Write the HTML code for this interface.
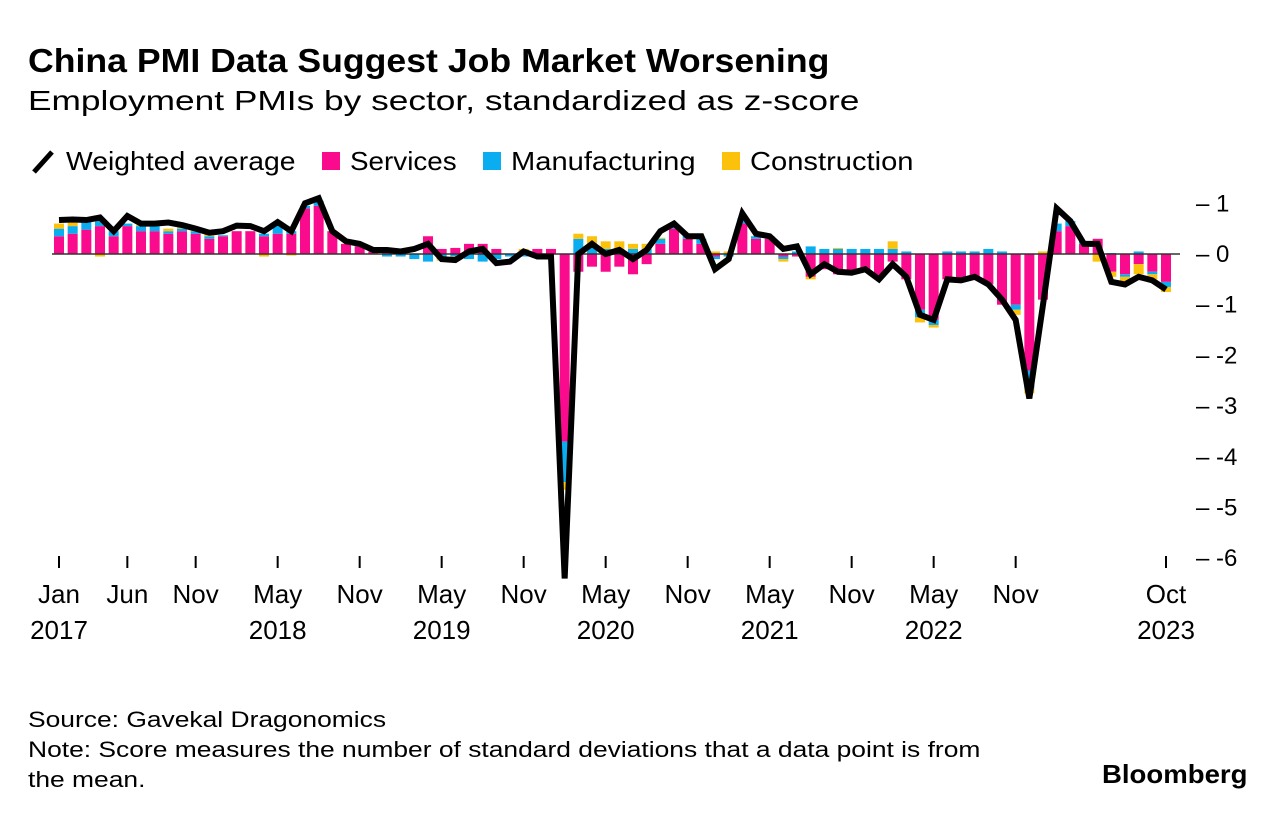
<!DOCTYPE html>
<html><head><meta charset="utf-8"><style>
body{margin:0;background:#fff;font-family:"Liberation Sans",sans-serif;color:#000}
.t{position:absolute;white-space:nowrap;transform-origin:0 0}
</style></head><body>
<div style="position:relative;width:1280px;height:818px;overflow:hidden">
<div class="t" style="left:28px;top:42px;font-size:33px;font-weight:bold;transform:scaleX(1.08)">China PMI Data Suggest Job Market Worsening</div>
<div class="t" style="left:28px;top:85px;font-size:28px;transform:scaleX(1.26)">Employment PMIs by sector, standardized as z-score</div>
<svg class="t" style="left:28px;top:146px" width="30" height="30"><line x1="6" y1="26" x2="24" y2="6" stroke="#000" stroke-width="5"/></svg>
<div class="t" style="left:66px;top:146px;font-size:26px;transform:scaleX(1.09)">Weighted average</div>
<div class="t" style="left:322px;top:152px;width:18px;height:18px;background:#fa0a8c"></div>
<div class="t" style="left:350px;top:146px;font-size:26px;transform:scaleX(1.07)">Services</div>
<div class="t" style="left:483px;top:152px;width:18px;height:18px;background:#0aaef0"></div>
<div class="t" style="left:511px;top:146px;font-size:26px;transform:scaleX(1.12)">Manufacturing</div>
<div class="t" style="left:722px;top:152px;width:18px;height:18px;background:#fcc10a"></div>
<div class="t" style="left:750px;top:146px;font-size:26px;transform:scaleX(1.12)">Construction</div>
<svg id="chart" width="1280" height="818" style="position:absolute;left:0;top:0"></svg>
<div class="t" style="left:28px;top:705px;font-size:22px;line-height:30px;transform:scaleX(1.2)">Source: Gavekal Dragonomics<br>Note: Score measures the number of standard deviations that a data point is from<br>the mean.</div>
<div class="t" style="left:1102px;top:759px;font-size:26px;font-weight:bold;transform:scaleX(1.06)">Bloomberg</div>
</div>
<script>
const average=[0.67,0.68,0.67,0.72,0.45,0.75,0.6,0.6,0.62,0.57,0.5,0.42,0.45,0.56,0.55,0.45,0.63,0.45,1.0,1.1,0.45,0.25,0.2,0.08,0.08,0.05,0.1,0.2,-0.1,-0.12,0.05,0.1,-0.18,-0.15,0.05,-0.05,-0.05,-6.4,0.0,0.2,0.0,0.08,-0.1,0.08,0.45,0.6,0.35,0.35,-0.3,-0.1,0.8,0.4,0.35,0.1,0.15,-0.4,-0.2,-0.35,-0.37,-0.3,-0.5,-0.2,-0.45,-1.2,-1.3,-0.5,-0.52,-0.45,-0.6,-0.9,-1.3,-2.85,-1.0,0.9,0.65,0.2,0.2,-0.55,-0.6,-0.45,-0.52,-0.7];
const services=[0.35,0.4,0.48,0.55,0.35,0.55,0.45,0.45,0.4,0.45,0.4,0.3,0.35,0.45,0.45,0.35,0.4,0.4,0.9,0.95,0.45,0.2,0.15,0.05,0.05,0,0,0.35,0.1,0.12,0.2,0.2,0.1,0,0.05,0.1,0.1,-3.7,-0.35,-0.25,-0.35,-0.25,-0.4,-0.2,0.2,0.5,0.3,0.2,-0.05,0,0.6,0.3,0.3,-0.05,-0.05,-0.45,-0.3,-0.4,-0.4,-0.35,-0.45,-0.15,-0.5,-1.1,-1.3,-0.5,-0.55,-0.5,-0.6,-1.0,-1.0,-2.3,-0.9,0.45,0.55,0.2,0.3,-0.35,-0.4,-0.2,-0.35,-0.55];
const manufacturing=[0.15,0.15,0.15,0.1,0.1,0.05,0.1,0.1,0.05,0.05,0.05,0.05,0.02,0,0,0.05,0.2,0.05,0.05,0.1,0,0,0.02,0,-0.05,-0.05,-0.1,-0.15,-0.1,-0.05,-0.1,-0.15,-0.1,-0.05,-0.05,0,0,-0.8,0.3,0.2,0.1,0.1,0.1,0.1,0.1,0.05,0.1,0.1,-0.05,-0.05,0.1,0.05,0.05,-0.05,0.05,0.15,0.1,0.1,0.1,0.1,0.1,0.1,0.05,-0.15,-0.1,0.05,0.05,0.05,0.1,0.05,-0.1,-0.35,0,0.15,0.1,0.05,0,0.02,-0.05,0.05,-0.05,-0.1];
const construction=[0.1,0.1,0,-0.05,0,0,0.02,0,0.05,0.05,0.05,0.05,0,0,0,-0.05,0,-0.03,0,0,0,0,0,0,0,0,0,0,-0.03,-0.03,0,0,0,0,0.05,0,0,-0.15,0.1,0.15,0.15,0.15,0.1,0.1,0.02,0,0,0,0.05,0.05,0,0,0,-0.05,0,-0.05,0,0.02,0,0,0,0.15,0,-0.1,-0.05,0,0,0,0,0,-0.1,-0.1,0.05,0,0,0,-0.15,-0.1,-0.1,-0.2,-0.1,-0.1];
const yTicks=[1,0,-1,-2,-3,-4,-5,-6];
const xTickIdx=[0,5,10,16,22,28,34,40,46,52,58,64,70,81];
const xTickTop=["Jan","Jun","Nov","May","Nov","May","Nov","May","Nov","May","Nov","May","Nov","Oct"];
const xTickBottom=["2017","","","2018","","2019","","2020","","2021","","2022","","2023"];
const NS="http://www.w3.org/2000/svg";
const svg=document.getElementById('chart');
const X=i=>59+i*(1166-59)/81;
const Y=v=>254-v*50.7;
function mk(tag,attrs){const e=document.createElementNS(NS,tag);for(const k in attrs)e.setAttribute(k,attrs[k]);svg.appendChild(e);return e;}
const series=[[services,'#fa0a8c','bar-services'],[manufacturing,'#0aaef0','bar-manufacturing'],[construction,'#fcc10a','bar-construction']];
for(let i=0;i<average.length;i++){
  let pos=0,neg=0;
  for(const [arr,col,nm] of series){
    const v=arr[i];if(!v)continue;
    let y0,y1;
    if(v>0){y0=pos;y1=pos+v;pos=y1;}else{y0=neg;y1=neg+v;neg=y1;}
    const r=mk('rect',{x:X(i)-5,y:Math.min(Y(y0),Y(y1)),width:10,height:Math.abs(Y(y1)-Y(y0)),fill:col});
    
    
  }
}
const zl=mk('line',{x1:52,x2:1180,y1:Y(0),y2:Y(0),stroke:'#333','stroke-width':1.5});


const pl=mk('polyline',{points:average.map((v,i)=>X(i)+','+Y(v)).join(' '),fill:'none',stroke:'#000','stroke-width':6,'stroke-linejoin':'miter','stroke-miterlimit':4});


yTicks.forEach(v=>{
  const t=mk('text',{x:1196,y:Y(v)+8,'font-size':24,'font-family':'Liberation Sans, sans-serif',fill:'#000'});
  t.textContent='– '+v;
  
  
});
xTickIdx.forEach((idx,k)=>{
  const l=mk('line',{x1:X(idx),x2:X(idx),y1:556,y2:568,stroke:'#000','stroke-width':2});
  
  
  const t=mk('text',{x:X(idx),y:603,'font-size':26,'text-anchor':'middle','font-family':'Liberation Sans, sans-serif'});
  t.textContent=xTickTop[k];
  
  
  if(xTickBottom[k]){
    const t2=mk('text',{x:X(idx),y:639,'font-size':26,'text-anchor':'middle','font-family':'Liberation Sans, sans-serif'});
    t2.textContent=xTickBottom[k];
    
    
  }
});
</script>
</body></html>
